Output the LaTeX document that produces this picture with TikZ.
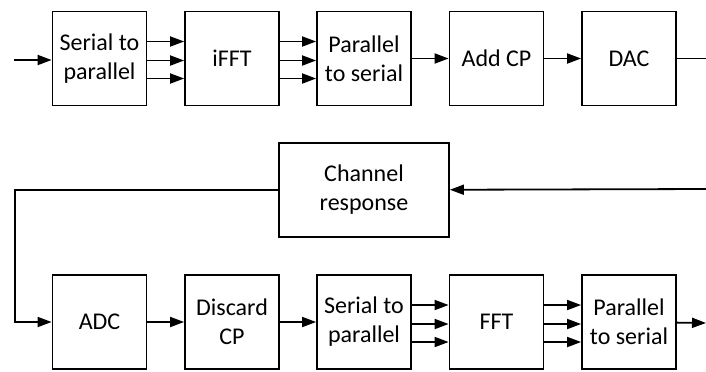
\documentclass[tikz,border=0pt]{standalone}
\usepackage{fontspec}
\setmainfont{Carlito}
\usetikzlibrary{arrows.meta}
\begin{document}
\begin{tikzpicture}[x=0.5pt,y=-0.5pt,
    block/.style={draw,line width=0.9pt,minimum width=47pt,minimum height=47pt,
        inner sep=0pt,align=center,font=\fontsize{12}{14.5}\selectfont},
    wideblock/.style={block,minimum width=85pt},
    sig/.style={line width=0.9pt,-{Triangle[length=7pt,width=5pt]}},
    wire/.style={line width=0.9pt}]
    \useasboundingbox (0,0) rectangle (706,371);

    % transmitter
    \node[block] (stp)  at (99.5,58.5)  {Serial to\\parallel};
    \node[block] (ifft) at (232,58.5)   {iFFT};
    \node[block] (pts)  at (364,58.5)   {Parallel\\to serial};
    \node[block] (addcp) at (496.5,58.5) {Add CP};
    \node[block] (dac)  at (629,58.5)   {DAC};

    % channel
    \node[wideblock] (chan) at (364,190) {Channel\\response};

    % receiver
    \node[block] (adc)  at (99.5,322)   {ADC};
    \node[block] (dcp)  at (232,322)    {Discard\\CP};
    \node[block] (rstp) at (364,322)    {Serial to\\parallel};
    \node[block] (fft)  at (496.5,322)  {FFT};
    \node[block] (rpts) at (629,322)    {Parallel\\to serial};

    \coordinate (txin)  at (14,60);
    \coordinate (txout) at (706,58.5);
    \coordinate (rxin)  at (706,189);
    \coordinate (bend)  at (15,190);
    \coordinate (rxout) at (706,323);

    \draw[sig] (txin) -- (txin -| stp.west);
    \foreach \dy in {8.5pt,-1pt,-10pt} {
        \draw[sig] ([yshift=\dy]stp.east) -- ([yshift=\dy]ifft.west);
        \draw[sig] ([yshift=\dy]ifft.east) -- ([yshift=\dy]pts.west);
        \draw[sig] ([yshift=\dy]rstp.east) -- ([yshift=\dy]fft.west);
        \draw[sig] ([yshift=\dy]fft.east) -- ([yshift=\dy]rpts.west);
    }
    \draw[sig] (pts) -- (addcp);
    \draw[sig] (addcp) -- (dac);
    \draw[wire] (dac) -- (txout);

    \draw[sig] (rxin) -- (chan);
    \draw[sig] (chan.west) -- (bend) |- (adc.west);
    \draw[sig] (adc) -- (dcp);
    \draw[sig] (dcp) -- (rstp);
    \draw[sig] (rpts) -- (rxout);
\end{tikzpicture}
\end{document}
